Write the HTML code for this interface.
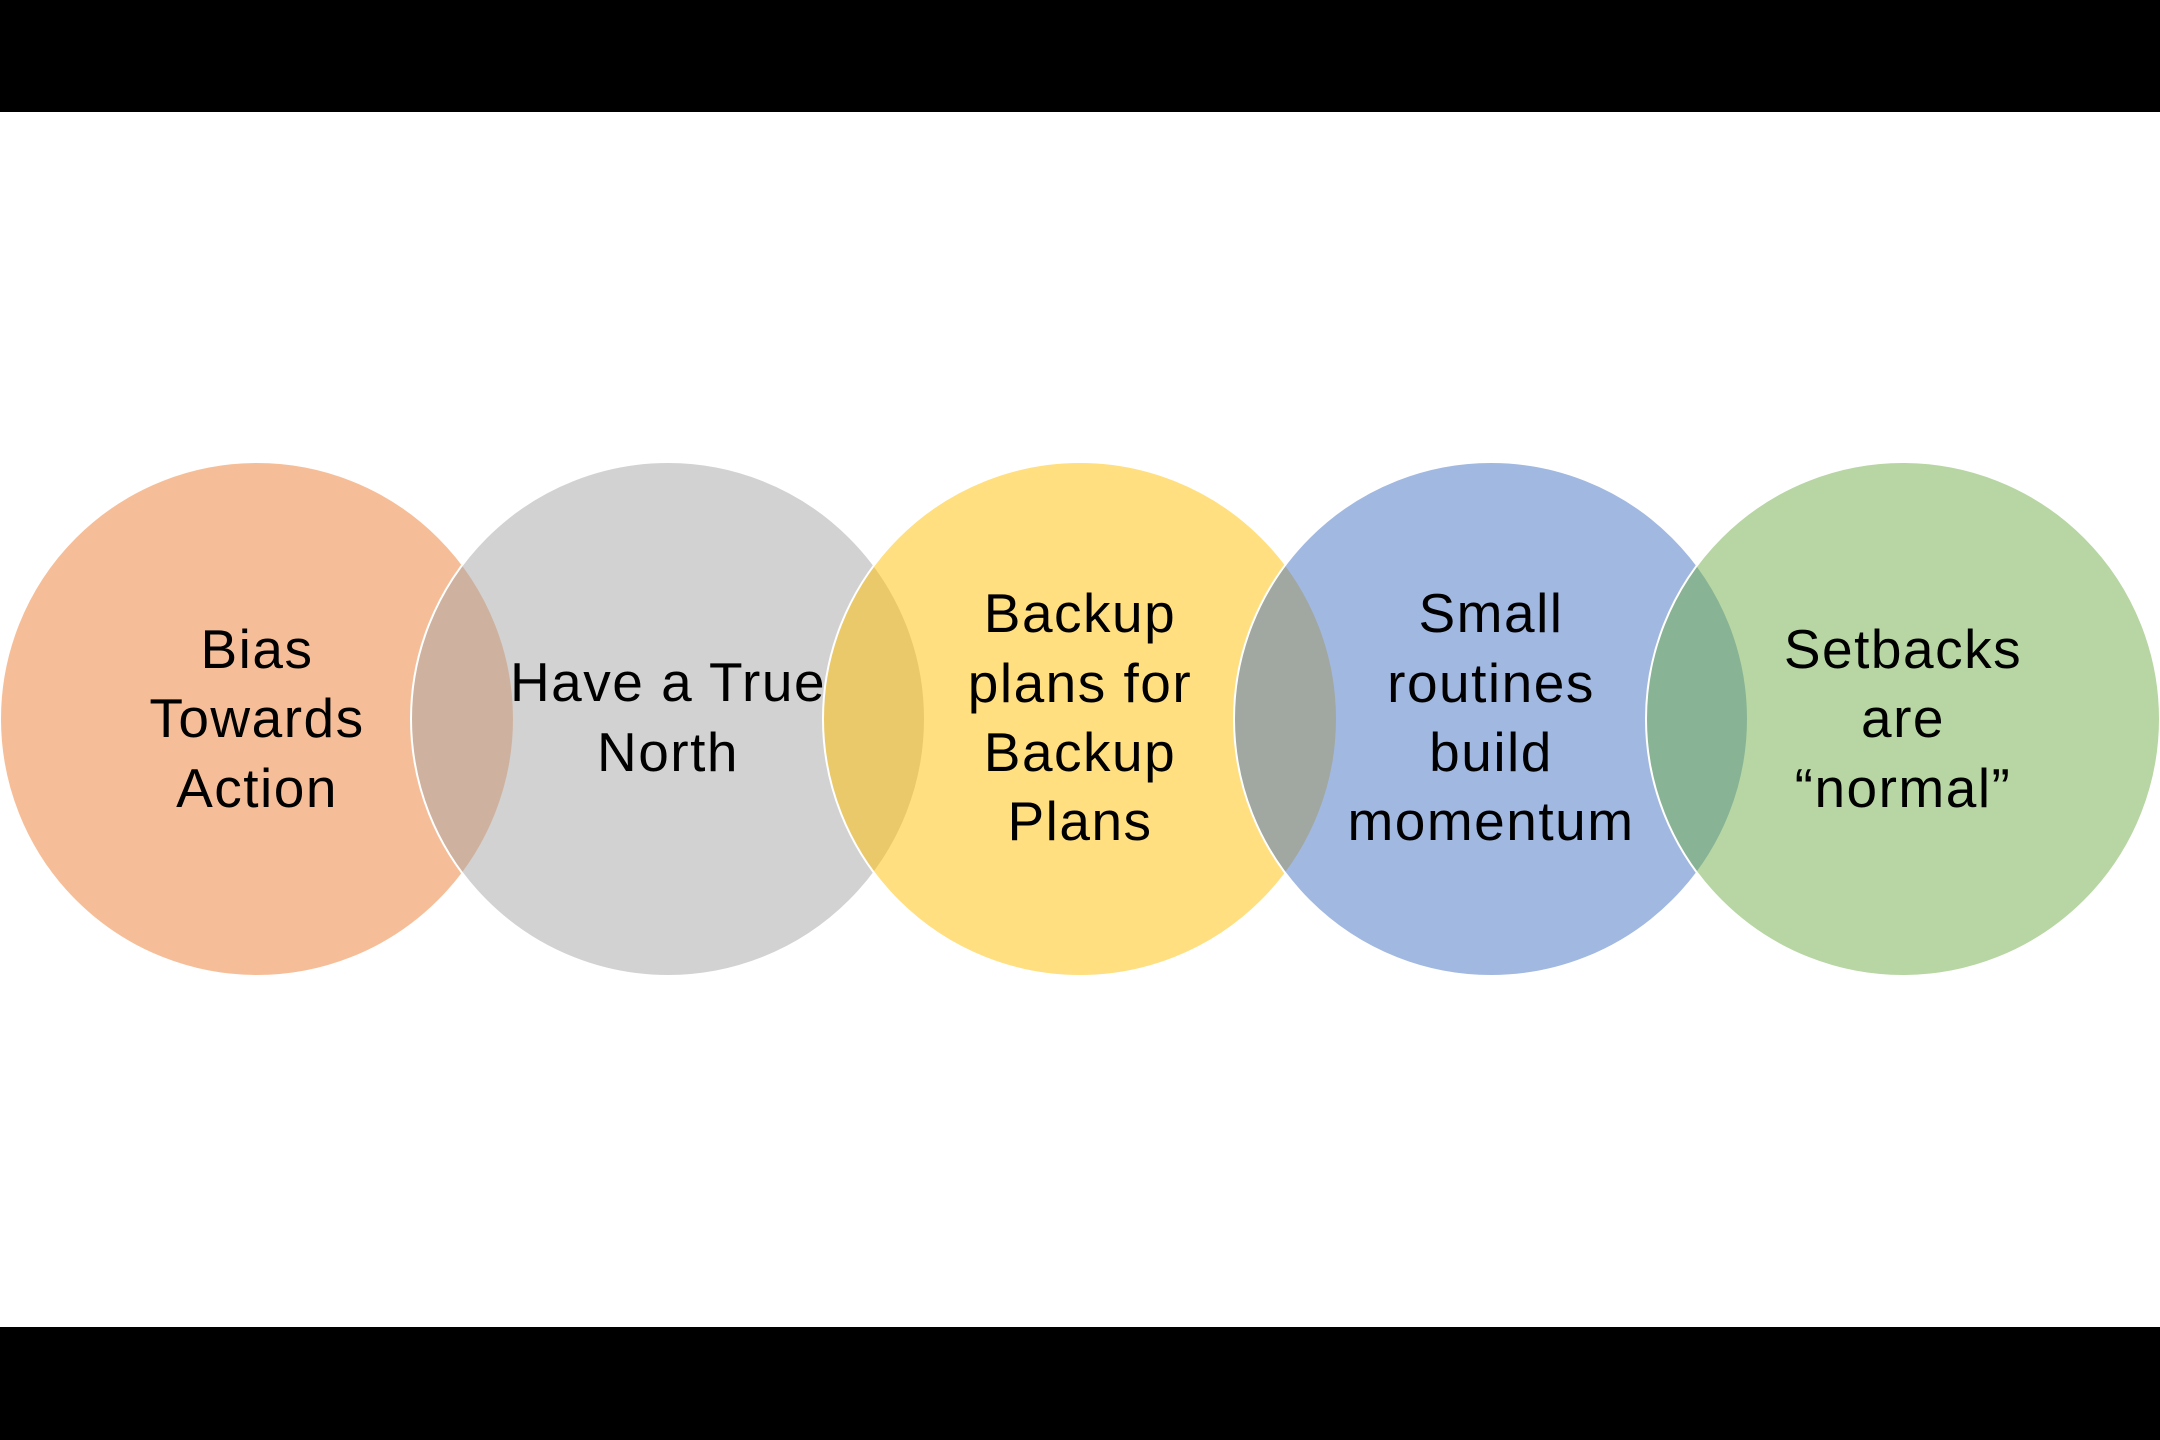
<!DOCTYPE html>
<html><head><meta charset="utf-8"><style>
html,body{margin:0;padding:0;background:#fff;}
svg{display:block;}
text{font-family:"Liberation Sans",sans-serif;font-size:55px;letter-spacing:1.5px;fill:#000;text-anchor:middle;}
</style></head><body>
<svg width="2160" height="1440" viewBox="0 0 2160 1440">
<rect x="0" y="0" width="2160" height="1440" fill="#fff"/>
<rect x="0" y="0" width="2160" height="112" fill="#000"/>
<rect x="0" y="1327" width="2160" height="113" fill="#000"/>
<g stroke="#fff" stroke-width="2">
<circle cx="257" cy="719" r="257" fill="#ED7D31" fill-opacity="0.5"/>
<circle cx="668" cy="719" r="257" fill="#A5A5A5" fill-opacity="0.5"/>
<circle cx="1080" cy="719" r="257" fill="#FFC000" fill-opacity="0.5"/>
<circle cx="1491" cy="719" r="257" fill="#4472C4" fill-opacity="0.5"/>
<circle cx="1903" cy="719" r="257" fill="#70AD47" fill-opacity="0.5"/>
</g>
<text x="257" y="668">Bias</text>
<text x="257" y="737">Towards</text>
<text x="257" y="807">Action</text>
<text x="668" y="701">Have a True</text>
<text x="668" y="771">North</text>
<text x="1080" y="632">Backup</text>
<text x="1080" y="702">plans for</text>
<text x="1080" y="771">Backup</text>
<text x="1080" y="840">Plans</text>
<text x="1491" y="632">Small</text>
<text x="1491" y="702">routines</text>
<text x="1491" y="771">build</text>
<text x="1491" y="840">momentum</text>
<text x="1903" y="668">Setbacks</text>
<text x="1903" y="737">are</text>
<text x="1903" y="807">“normal”</text>
</svg>
</body></html>
